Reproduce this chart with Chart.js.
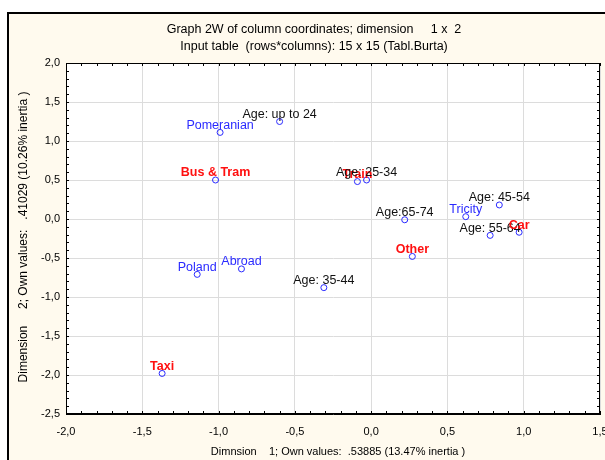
<!DOCTYPE html>
<html>
    <head>
        <title>Graph 2W</title>
        <meta charset="utf-8">
        <script src="https://cdn.jsdelivr.net/npm/chart.js"></script>
        <style>
          html, body { margin: 0; padding: 0; background: #ffffff; }
          #wrap { width: 605px; height: 460px; }
        </style>
    </head>
    <body>
        <div id="wrap"><canvas id="plot" width="605" height="460"></canvas></div>
        <script>
            // column coordinates (dimension 1, dimension 2)
            const names = ["Age: up to 24", "Pomeranian", "Bus & Tram", "Train", "Age: 25-34",
                           "Age:65-74", "Other", "Tricity", "Age: 45-54", "Age: 55-64",
                           "Car", "Poland", "Abroad", "Age: 35-44", "Taxi"];
            const dim1 = [-0.60, -0.99, -1.02, -0.09, -0.03, 0.22, 0.27, 0.62, 0.84, 0.78, 0.97, -1.14, -0.85, -0.31, -1.37];
            const dim2 = [1.25, 1.11, 0.50, 0.48, 0.50, -0.01, -0.48, 0.03, 0.18, -0.21, -0.17, -0.71, -0.64, -0.88, -1.98];
            const kinds = ["age", "place", "mode", "mode", "age", "age", "mode", "place", "age", "age",
                           "mode", "place", "place", "age", "mode"];

            const xTicks = [-2.0, -1.5, -1.0, -0.5, 0.0, 0.5, 1.0, 1.5];
            const yTicks = [2.0, 1.5, 1.0, 0.5, 0.0, -0.5, -1.0, -1.5, -2.0, -2.5];

            const titleLines = ["Graph 2W of column coordinates; dimension     1 x  2",
                                "Input table  (rows*columns): 15 x 15 (Tabl.Burta)"];
            const xTitle = "Dimnsion    1; Own values:  .53885 (13.47% inertia )";
            const yTitle = "Dimension     2; Own values:   .41029 (10.26% inertia )";

            const FONT = "Arial, 'Liberation Sans', sans-serif";
            const labelStyle = {
                age:   { color: "#111111", font: "12.5px " + FONT },
                place: { color: "#2a2aff", font: "12.5px " + FONT },
                mode:  { color: "#ff1010", font: "bold 12.5px " + FONT }
            };

            const fmt = v => v.toFixed(1).replace(".", ",");

            // frame, cream background and texts outside the plot
            const framePlugin = {
                id: "frame",
                beforeDraw(chart) {
                    const c = chart.ctx, a = chart.chartArea;
                    c.save();
                    c.fillStyle = "#ffffff";
                    c.fillRect(0, 0, chart.width, chart.height);
                    c.fillStyle = "#fffaee";
                    c.fillRect(7, 12, chart.width, chart.height);
                    c.strokeStyle = "#000000";
                    c.lineWidth = 2;
                    c.strokeRect(8, 13, chart.width + 10, chart.height + 10);
                    c.fillStyle = "#ffffff";
                    c.fillRect(a.left, a.top, a.right - a.left, a.bottom - a.top);
                    c.restore();
                },
                afterDraw(chart) {
                    const c = chart.ctx, a = chart.chartArea;
                    const xs = chart.scales.x, ys = chart.scales.y;
                    c.save();
                    c.fillStyle = "#000000";
                    c.font = "12.5px " + FONT;
                    c.textAlign = "center";
                    c.textBaseline = "middle";
                    c.fillText(titleLines[0], 314, 30);
                    c.fillText(titleLines[1], 314, 47);
                    c.font = "11px " + FONT;
                    c.fillText(xTitle, 338, 452);
                    c.font = "12px " + FONT;
                    c.translate(24, 237);
                    c.rotate(-Math.PI / 2);
                    c.fillText(yTitle, 0, 0);
                    c.restore();

                    // minor ticks every 0.1 on all four sides, pointing inward
                    c.save();
                    c.strokeStyle = "#000000";
                    c.lineWidth = 1;
                    c.beginPath();
                    for (let i = Math.round(ys.min * 10); i <= Math.round(ys.max * 10); i++) {
                        const py = Math.round(ys.getPixelForValue(i / 10)) + 0.5;
                        c.moveTo(a.left, py); c.lineTo(a.left + 3, py);
                        c.moveTo(a.right, py); c.lineTo(a.right - 3, py);
                    }
                    for (let i = Math.round(xs.min * 10); i <= Math.round(xs.max * 10); i++) {
                        const px = Math.round(xs.getPixelForValue(i / 10)) + 0.5;
                        c.moveTo(px, a.bottom); c.lineTo(px, a.bottom - 3);
                        c.moveTo(px, a.top); c.lineTo(px, a.top + 3);
                    }
                    c.stroke();
                    c.strokeRect(a.left + 0.5, a.top + 0.5, a.right - a.left - 1, a.bottom - a.top - 1);
                    c.restore();
                }
            };

            // point labels, centred just above each marker
            const labelPlugin = {
                id: "pointLabels",
                afterDatasetsDraw(chart) {
                    const c = chart.ctx;
                    const meta = chart.getDatasetMeta(0);
                    c.save();
                    c.textAlign = "center";
                    c.textBaseline = "middle";
                    meta.data.forEach((pt, i) => {
                        const st = labelStyle[kinds[i]];
                        c.font = st.font;
                        c.fillStyle = st.color;
                        c.fillText(names[i], pt.x, pt.y - 7);
                    });
                    c.restore();
                }
            };

            new Chart(document.getElementById("plot"), {
                type: "scatter",
                data: {
                    datasets: [{
                        data: dim1.map((x, i) => ({ x: x, y: dim2[i] })),
                        pointStyle: "circle",
                        pointRadius: 3,
                        pointBorderWidth: 1,
                        pointBorderColor: "#2a2aff",
                        pointBackgroundColor: "rgba(0,0,0,0)"
                    }]
                },
                options: {
                    responsive: false,
                    animation: false,
                    devicePixelRatio: 1,
                    layout: { padding: { left: 16, right: 5, top: 63, bottom: 16 } },
                    plugins: { legend: { display: false }, tooltip: { enabled: false } },
                    scales: {
                        x: {
                            type: "linear",
                            min: xTicks[0], max: xTicks[xTicks.length - 1],
                            afterFit(s) { s.height = 30; s.paddingLeft = 0; s.paddingRight = 0; },
                            afterBuildTicks(s) { s.ticks = xTicks.map(v => ({ value: v })); },
                            ticks: { color: "#000000", font: { family: FONT, size: 11 }, padding: 11,
                                     maxRotation: 0, autoSkip: false, callback: v => fmt(v) },
                            grid: { color: "#dcdcdc", drawTicks: false },
                            border: { color: "#000000", width: 1 }
                        },
                        y: {
                            type: "linear",
                            min: yTicks[yTicks.length - 1], max: yTicks[0],
                            afterFit(s) { s.width = 50; s.paddingTop = 0; s.paddingBottom = 0; },
                            afterBuildTicks(s) { s.ticks = yTicks.slice().reverse().map(v => ({ value: v })); },
                            ticks: { color: "#000000", font: { family: FONT, size: 11 }, padding: 6,
                                     autoSkip: false, callback: v => fmt(v) },
                            grid: { color: "#dcdcdc", drawTicks: false },
                            border: { color: "#000000", width: 1 }
                        }
                    }
                },
                plugins: [framePlugin, labelPlugin]
            });
        </script>
    </body>
</html>
